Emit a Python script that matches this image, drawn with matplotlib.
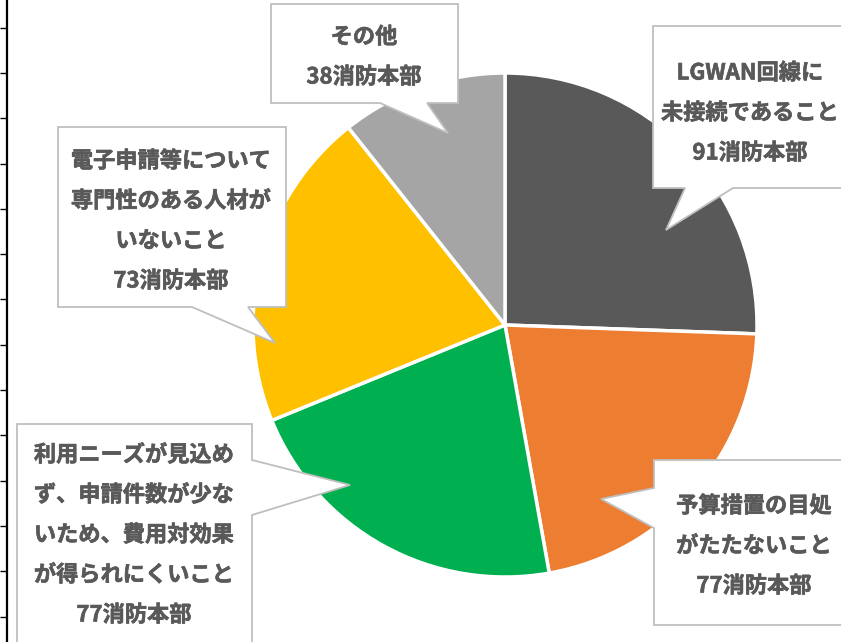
import matplotlib.pyplot as plt
import matplotlib.patheffects as pe
import numpy as np
from matplotlib.patches import Polygon

plt.rcParams['font.family'] = ['Noto Sans CJK JP', 'DejaVu Sans']

# data (clockwise from 12 o'clock)
values = [91, 77, 77, 73, 38]
colors = ["#595959", "#ED7D31", "#00B050", "#FFC000", "#A5A5A5"]
descriptions = [
    ["LGWAN回線に", "未接続であること"],
    ["予算措置の目処", "がたたないこと"],
    ["利用ニーズが見込め", "ず、申請件数が少な", "いため、費用対効果", "が得られにくいこと"],
    ["電子申請等について", "専門性のある人材が", "いないこと"],
    ["その他"],
]
unit = "消防本部"

W, H = 841, 642
TEXT_COLOR = "#595959"
LINE_STEP = 40

# callout layout in image pixels (y downward): box, pointer side, pointer base, tip, text x, first line y
callouts = [
    dict(box=(653, 26, 845, 188), side="bottom", base=(685, 733), tip=(666, 230), tx=750, ty=73),
    dict(box=(654, 460, 850, 625), side="left", base=(488, 528), tip=(601, 499), tx=754, ty=506),
    dict(box=(17, 424, 252, 650), side="right", base=(460, 515), tip=(350, 485), tx=134, ty=455),
    dict(box=(58, 127, 286, 307), side="bottom", base=(192, 248), tip=(275, 343), tx=171, ty=161),
    dict(box=(271, 4, 458, 103), side="bottom", base=(380, 427), tip=(448, 133), tx=364, ty=37),
]


def flip(p):
    return (p[0], H - p[1])


def callout_points(box, side, base, tip):
    x0, y0, x1, y1 = box
    a, b = base
    if side == "bottom":
        pts = [(x0, y0), (x1, y0), (x1, y1), (b, y1), tip, (a, y1), (x0, y1)]
    elif side == "right":
        pts = [(x0, y0), (x1, y0), (x1, a), tip, (x1, b), (x1, y1), (x0, y1)]
    else:
        pts = [(x0, y0), (x1, y0), (x1, y1), (x0, y1), (x0, b), tip, (x0, a)]
    return [flip(p) for p in pts]


fig = plt.figure(figsize=(W / 100, H / 100), dpi=100)
ax = fig.add_axes([0, 0, 1, 1])
ax.pie(values, colors=colors, startangle=90, counterclock=False,
       center=(505, H - 325), radius=252,
       wedgeprops=dict(edgecolor="white", linewidth=2.5))
ax.set_xlim(0, W)
ax.set_ylim(0, H)
ax.set_aspect("equal")
ax.axis("off")

bold = [pe.withStroke(linewidth=0.45, foreground=TEXT_COLOR)]
for value, lines, c in zip(values, descriptions, callouts):
    poly = Polygon(callout_points(c["box"], c["side"], c["base"], c["tip"]), closed=True,
                   facecolor="white", edgecolor="#BFBFBF", linewidth=1.3, zorder=5)
    ax.add_patch(poly)
    for i, line in enumerate(lines + [f"{value}{unit}"]):
        ax.text(c["tx"], H - (c["ty"] + i * LINE_STEP), line, ha="center", va="center",
                fontsize=16, fontweight="bold", color=TEXT_COLOR, zorder=6,
                path_effects=bold)

# leftover axis line on the left edge
ax2 = fig.add_axes([7 / W, 0, 0.0005, 1])
ax2.set_ylim(H, 0)
ax2.set_yticks(np.arange(27.7, H, 45.3))
ax2.set_yticklabels([])
ax2.set_xticks([])
for s in ["top", "right", "bottom"]:
    ax2.spines[s].set_visible(False)
ax2.spines["left"].set_linewidth(1.6)
ax2.tick_params(axis="y", direction="out", length=5, width=1)
ax2.patch.set_visible(False)

fig.savefig("out.png", dpi=100)
